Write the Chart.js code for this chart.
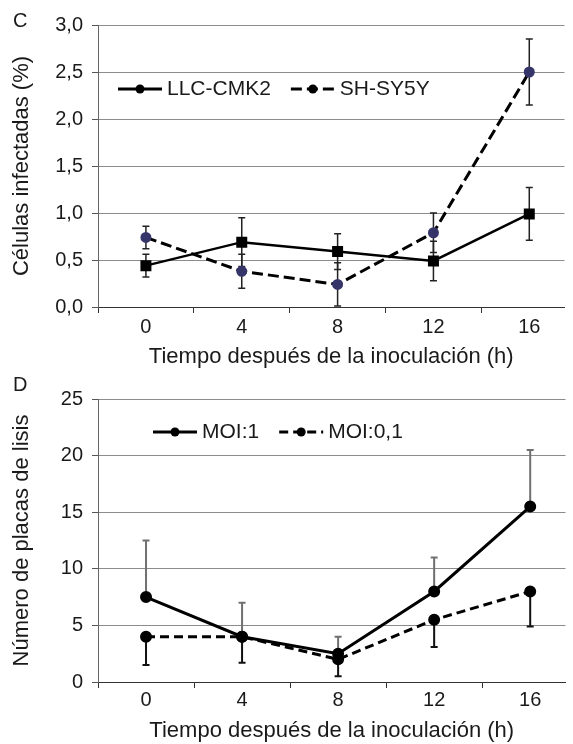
<!DOCTYPE html>
<html>
<head>
<meta charset="utf-8">
<script src="https://cdn.jsdelivr.net/npm/chart.js@4.4.1/dist/chart.umd.min.js"></script>
<style>
body { margin: 0; background: #fff; overflow: hidden; font-family: "Liberation Sans", Arial, sans-serif; }
.panel { position: absolute; left: 0; width: 573px; }
.panel canvas { display: block; }
.tag { position: absolute; left: 13px; font-size: 20px; line-height: 20px; color: #1a1a1a; }
</style>
</head>
<body>

<div class="panel" style="top:0; height:370px;">
    <canvas id="chartC" width="573" height="370"></canvas>
    <div class="tag" style="top:10px;">C</div>
</div>

<div class="panel" style="top:370px; height:374px;">
    <canvas id="chartD" width="573" height="374"></canvas>
    <div class="tag" style="top:4px;">D</div>
</div>

<script>
const hours = [0, 4, 8, 12, 16];

// panel C - infected cells (%)
const llcValues = [0.44, 0.69, 0.59, 0.49, 0.99];
const llcErrors = [0.12, 0.26, 0.19, 0.21, 0.28];
const shValues = [0.74, 0.38, 0.24, 0.79, 2.5];
const shErrors = [0.12, 0.18, 0.23, 0.21, 0.35];
const cTickLabels = ['0,0', '0,5', '1,0', '1,5', '2,0', '2,5', '3,0'];

// panel D - plaque counts
const moi1Values = [7.5, 4.0, 2.5, 8.0, 15.5];
const moi1Errors = [5.0, 3.0, 1.5, 3.0, 5.0];
const moi01Values = [4.0, 4.0, 2.0, 5.5, 8.0];
const moi01Errors = [2.5, 2.3, 1.5, 2.4, 3.1];
const dTickLabels = ['0', '5', '10', '15', '20', '25'];

const textColor = '#1a1a1a';
Chart.defaults.font.family = '"Liberation Sans", Arial, sans-serif';
Chart.defaults.color = textColor;

const errorBars = {
    id: 'errorBars',
    beforeDatasetsDraw(chart, args, opts) {
        const { ctx, scales: { x, y } } = chart;
        opts.bars.forEach(bar => {
            const ds = chart.data.datasets[bar.dataset];
            ctx.save();
            ctx.strokeStyle = bar.color;
            ctx.lineWidth = bar.width;
            ds.data.forEach((p, i) => {
                const e = bar.errors[i];
                const px = x.getPixelForValue(p.x);
                const lo = y.getPixelForValue(bar.dir === 'up' ? p.y : p.y - e);
                const hi = y.getPixelForValue(bar.dir === 'down' ? p.y : p.y + e);
                ctx.beginPath();
                ctx.moveTo(px, lo);
                ctx.lineTo(px, hi);
                if (bar.dir !== 'up') {
                    ctx.moveTo(px - bar.cap, lo);
                    ctx.lineTo(px + bar.cap, lo);
                }
                if (bar.dir !== 'down') {
                    ctx.moveTo(px - bar.cap, hi);
                    ctx.lineTo(px + bar.cap, hi);
                }
                ctx.stroke();
            });
            ctx.restore();
        });
    }
};

const inlineLegend = {
    id: 'inlineLegend',
    afterDraw(chart, args, opts) {
        const ctx = chart.ctx;
        let x = opts.x;
        ctx.save();
        ctx.font = '21px "Liberation Sans", Arial, sans-serif';
        ctx.textBaseline = 'middle';
        chart.data.datasets.forEach(ds => {
            ctx.strokeStyle = '#000';
            ctx.lineWidth = 3;
            ctx.setLineDash(ds.borderDash || []);
            ctx.beginPath();
            ctx.moveTo(x, opts.y);
            ctx.lineTo(x + opts.line, opts.y);
            ctx.stroke();
            ctx.setLineDash([]);
            ctx.fillStyle = '#000';
            ctx.beginPath();
            ctx.arc(x + opts.line / 2, opts.y, 4.5, 0, Math.PI * 2);
            ctx.fill();
            x += opts.line + 5;
            ctx.fillStyle = textColor;
            ctx.fillText(ds.label, x, opts.y);
            x += ctx.measureText(ds.label).width + 20;
        });
        ctx.restore();
    }
};

function xAxis(height, pad) {
    return {
        type: 'linear',
        min: -2,
        max: 17.47,
        afterBuildTicks: s => { s.ticks = hours.map(v => ({ value: v })); },
        afterFit: s => { s.height = height; },
        grid: { offset: true, drawOnChartArea: false, tickLength: 6, color: '#333' },
        border: { color: '#333', width: 1 },
        ticks: { padding: pad, color: textColor, font: { size: 20 } },
        title: {
            display: true,
            text: 'Tiempo después de la inoculación (h)',
            color: textColor,
            font: { size: 22 },
            padding: 0
        }
    };
}

function yAxis(max, step, labels, titleText) {
    return {
        min: 0,
        max: max,
        afterFit: s => { s.width = 98; },
        grid: {
            color: c => c.tick && c.tick.value === 0 ? 'rgba(0,0,0,0)' : '#8c8c8c',
            tickColor: '#555',
            tickLength: 6
        },
        border: { color: '#666' },
        ticks: {
            stepSize: step,
            padding: 9,
            color: textColor,
            font: { size: 20 },
            callback: (v, i) => labels[i]
        },
        title: {
            display: true,
            text: titleText,
            color: textColor,
            font: { size: 22 },
            padding: { top: 9, bottom: 0 }
        }
    };
}

function points(values) {
    return hours.map((h, i) => ({ x: h, y: values[i] }));
}

new Chart(document.getElementById('chartC'), {
    type: 'line',
    data: {
        datasets: [{
            label: 'LLC-CMK2',
            data: points(llcValues),
            borderColor: '#000',
            borderWidth: 2.5,
            pointStyle: 'rect',
            pointRadius: 6,
            pointBackgroundColor: '#000',
            pointBorderColor: '#000'
        }, {
            label: 'SH-SY5Y',
            data: points(shValues),
            borderColor: '#000',
            borderWidth: 3,
            borderDash: [11, 5],
            pointRadius: 4,
            pointBackgroundColor: '#35356a',
            pointBorderColor: '#35356a'
        }]
    },
    options: {
        responsive: false,
        animation: false,
        layout: { padding: { top: 25, right: 0, bottom: 0, left: 0 } },
        scales: {
            x: xAxis(63, 2),
            y: yAxis(3, 0.5, cTickLabels, 'Células infectadas (%)')
        },
        plugins: {
            legend: { display: false },
            tooltip: { enabled: false },
            inlineLegend: { x: 118, y: 89, line: 44 },
            errorBars: {
                bars: [
                    { dataset: 0, errors: llcErrors, dir: 'both', color: '#222', width: 1.5, cap: 3.5 },
                    { dataset: 1, errors: shErrors, dir: 'both', color: '#222', width: 1.5, cap: 3.5 }
                ]
            }
        }
    },
    plugins: [errorBars, inlineLegend]
});

new Chart(document.getElementById('chartD'), {
    type: 'line',
    data: {
        datasets: [{
            label: 'MOI:1',
            data: points(moi1Values),
            borderColor: '#000',
            borderWidth: 3,
            pointRadius: 4.5,
            pointBackgroundColor: '#000',
            pointBorderColor: '#000'
        }, {
            label: 'MOI:0,1',
            data: points(moi01Values),
            borderColor: '#000',
            borderWidth: 3,
            borderDash: [9, 5],
            pointRadius: 4.5,
            pointBackgroundColor: '#000',
            pointBorderColor: '#000'
        }]
    },
    options: {
        responsive: false,
        animation: false,
        layout: { padding: { top: 29, right: 0, bottom: 0, left: 0 } },
        scales: {
            x: xAxis(62, 0),
            y: yAxis(25, 5, dTickLabels, 'Número de placas de lisis')
        },
        plugins: {
            legend: { display: false },
            tooltip: { enabled: false },
            inlineLegend: { x: 153, y: 62, line: 44 },
            errorBars: {
                bars: [
                    { dataset: 0, errors: moi1Errors, dir: 'up', color: '#707070', width: 2, cap: 3.5 },
                    { dataset: 1, errors: moi01Errors, dir: 'down', color: '#111', width: 2, cap: 3.5 }
                ]
            }
        }
    },
    plugins: [errorBars, inlineLegend]
});
</script>
</body>
</html>
